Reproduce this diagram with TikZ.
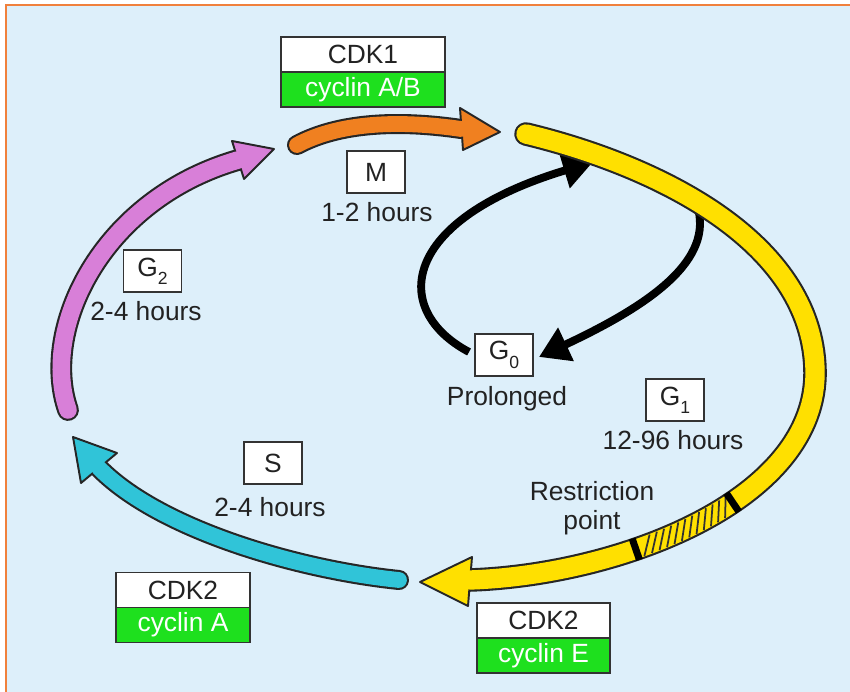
\documentclass[tikz,border=0pt]{standalone}
\usepackage{fontspec}
\setmainfont{Liberation Sans}
\usetikzlibrary{arrows.meta}
\usetikzlibrary{positioning}
\usetikzlibrary{calc}
\usetikzlibrary{decorations.markings}

\definecolor{bgblue}{HTML}{DDEFFA}
\definecolor{frameorange}{HTML}{F0803C}
\definecolor{cycgreen}{HTML}{1EE01E}
\definecolor{morange}{HTML}{F08020}
\definecolor{gtwopink}{HTML}{D87FD8}
\definecolor{scyan}{HTML}{30C4D8}
\definecolor{goneyellow}{HTML}{FFE000}
\definecolor{txtgray}{HTML}{222222}

\newcommand{\phsub}[1]{\raisebox{-.6ex}{\fontsize{10}{10}\selectfont #1}}

\tikzset{
  every node/.style={font=\fontsize{15}{17}\selectfont, text=txtgray},
  phasebox/.style={draw=black!80, fill=white, line width=1.1pt, minimum width=1.16cm, minimum height=0.84cm, inner sep=0pt},
  cdkbox/.style={draw=black!80, fill=white, line width=1.1pt, minimum width=#1, minimum height=0.7cm, inner sep=0pt, outer sep=0pt},
  cycbox/.style={cdkbox=#1, fill=cycgreen, text=white},
  bandedge/.style={line width=#1, draw=black!85, line cap=round},
  band/.style={line width=#1, line cap=round},
  headtip/.style={draw=black!85, line width=1.1pt, line join=round},
  backarrow/.style={line width=4.5pt, -{Triangle[length=17pt,width=20pt]}},
}

\begin{document}
\begin{tikzpicture}[x=0.02cm,y=-0.02cm]
  \useasboundingbox (0,0) rectangle (850,692);
  \fill[white] (0,0) rectangle (850,692);
  \fill[bgblue] (6,5) rectangle (850,692);
  \draw[frameorange, line width=1.6pt] (6,692) -- (6,5) -- (850,5);

  % kinase boxes
  \node[cdkbox=3.28cm] (cdkone) at (363,54.5) {CDK1};
  \node[cycbox=3.28cm, below=0pt of cdkone] (cycab) {cyclin A/B};
  \node[cdkbox=2.68cm] (cdktwoa) at (183,590) {CDK2};
  \node[cycbox=2.68cm, below=0pt of cdktwoa] (cyca) {cyclin A};
  \node[cdkbox=2.66cm] (cdktwoe) at (543.5,620.5) {CDK2};
  \node[cycbox=2.66cm, below=0pt of cdktwoe] (cyce) {cyclin E};

  % phases
  \node[phasebox] (mbox) at (376,172) {M};
  \node (mhours) at (377,212) {1-2 hours};
  \node[phasebox] (gone) at (675,400) {G\phsub{1}};
  \node (gonehours) at (673,440) {12-96 hours};
  \node[phasebox] (gtwo) at (152.5,271) {G\phsub{2}};
  \node (gtwohours) at (146,311) {2-4 hours};
  \node[phasebox] (sbox) at (273,463) {S};
  \node (shours) at (270,507) {2-4 hours};
  \node[phasebox] (gzero) at (504,355) {G\phsub{0}};
  \node (prolonged) at (507,399) {Prolonged};
  \node[align=center, font=\fontsize{15}{16.5}\selectfont] (restrict) at (592,508) {Restriction\\point};

  % G0 exit and entry
  \draw[backarrow] ($(gzero.west)+(-5,-3)$) .. controls (390,310) and (400,220) .. (593,162);
  \draw[backarrow] (697,205) .. controls (715,260) and (650,305) .. ($(gzero.east)+(5,2)$);

  % M
  \draw[bandedge=11.4pt] (297,145) .. controls (340,122) and (400,120) .. (461,129);
  \filldraw[headtip, fill=morange] (460,108) -- (500,132) -- (463,150) -- cycle;
  \draw[band=9pt, morange] (297,145) .. controls (340,122) and (400,120) .. (461,129);

  % G2
  \draw[bandedge=12.4pt] (68,410) .. controls (40,330) and (100,200) .. (238,160);
  \filldraw[headtip, fill=gtwopink] (232,141) -- (274,149) -- (244,179) -- cycle;
  \draw[band=10pt, gtwopink] (68,410) .. controls (40,330) and (100,200) .. (238,160);

  % S
  \draw[bandedge=11.4pt] (399,580) .. controls (300,570) and (160,530) .. (99,468);
  \filldraw[headtip, fill=scyan] (117,453) -- (73,437) -- (81,483) -- cycle;
  \draw[band=9pt, scyan] (399,580) .. controls (300,570) and (160,530) .. (99,468);

  % G1
  \draw[bandedge=13.4pt] (526,134) .. controls (655,165) and (812,240) .. (815,370)
    .. controls (818,500) and (620,575) .. (470,580);
  \filldraw[headtip, fill=goneyellow] (472,557) -- (420,582) -- (468,606) -- cycle;
  \draw[band=11pt, goneyellow] (526,134) .. controls (655,165) and (812,240) .. (815,370)
    .. controls (818,500) and (620,575) .. (470,580);
  \path[postaction={decorate}, decoration={markings,
      mark=between positions 0.39 and 0.6 step 0.018 with {\draw[black!80, line width=1pt] (-3.5pt,-5.2pt) -- (3.5pt,5.2pt);},
      mark=at position 0.37 with {\fill[black] (-2pt,-6.4pt) rectangle (2pt,6.4pt);},
      mark=at position 0.615 with {\fill[black] (-2pt,-6.4pt) rectangle (2pt,6.4pt);}}]
    (815,370) .. controls (818,500) and (620,575) .. (470,580);
\end{tikzpicture}
\end{document}
